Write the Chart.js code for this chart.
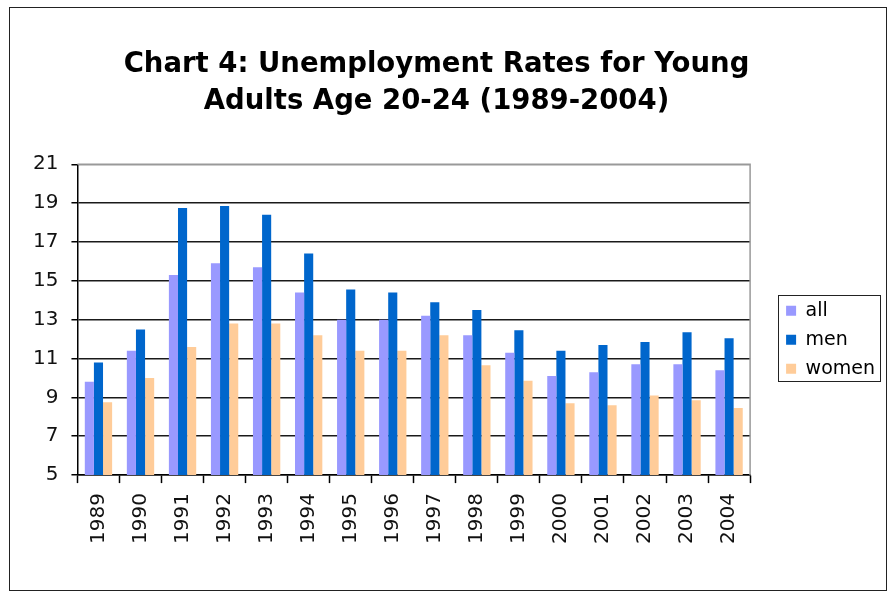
<!DOCTYPE html>
<html>
<head>
<meta charset="utf-8">
<title>Chart 4</title>
<script src="https://cdn.jsdelivr.net/npm/chart.js@4/dist/chart.umd.min.js"></script>
<style>
  body { margin: 0; background: #fff; }
  #frame {
    position: absolute; left: 9px; top: 7px; width: 878px; height: 584px;
    box-sizing: border-box; border: 1px solid #222; pointer-events: none;
  }
  #chart { position: absolute; left: 0; top: 0; }
</style>
</head>
<body>
<canvas id="chart" width="889" height="592"></canvas>
<div id="frame"></div>
<script>
const years = ["1989", "1990", "1991", "1992", "1993", "1994", "1995", "1996",
  "1997", "1998", "1999", "2000", "2001", "2002", "2003", "2004"];
const allRates = [9.8, 11.4, 15.3, 15.9, 15.7, 14.4, 13.0, 13.0, 13.2, 12.2, 11.3, 10.1, 10.3, 10.7, 10.7, 10.4];
const menRates = [10.8, 12.5, 18.75, 18.85, 18.4, 16.4, 14.55, 14.4, 13.9, 13.5, 12.45, 11.4, 11.7, 11.85, 12.35, 12.05];
const womenRates = [8.75, 10.0, 11.6, 12.8, 12.8, 12.2, 11.4, 11.4, 12.2, 10.65, 9.85, 8.7, 8.6, 9.1, 8.85, 8.45];
const titleLines = ["Chart 4: Unemployment Rates for Young", "Adults Age 20-24 (1989-2004)"];

Chart.defaults.font.family = "'DejaVu Sans', Verdana, sans-serif";
Chart.defaults.color = "#000";

// nudge title + legend to where excel put them, then box the legend
const tweaks = {
  id: "tweaks",
  afterLayout(chart) {
    chart.titleBlock.left -= 3;
    chart.titleBlock.right -= 3;
    const lg = chart.legend;
    lg.left += 26; lg.right += 26;
    lg.top += 20; lg.bottom += 20;
  },
  afterDraw(chart) {
    const ctx = chart.ctx;
    const a = chart.chartArea;
    ctx.save();
    // plot area border, top and right in gray
    ctx.strokeStyle = "#999";
    ctx.lineWidth = 1.5;
    ctx.beginPath();
    ctx.moveTo(a.left, a.top);
    ctx.lineTo(a.right, a.top);
    ctx.lineTo(a.right, a.bottom);
    ctx.stroke();
    // legend frame
    const boxes = chart.legend.legendHitBoxes;
    if (boxes && boxes.length) {
      const first = boxes[0], last = boxes[boxes.length - 1];
      let right = 0;
      boxes.forEach(b => { right = Math.max(right, b.left + b.width); });
      const top = first.top + first.height / 2 - 16;
      const bottom = last.top + last.height / 2 + 12;
      ctx.strokeStyle = "#222";
      ctx.lineWidth = 1;
      ctx.strokeRect(Math.round(first.left - 8) + 0.5, Math.round(top) + 0.5,
        Math.round(right - first.left + 13), Math.round(bottom - top));
    }
    ctx.restore();
  }
};

new Chart(document.getElementById("chart"), {
  type: "bar",
  data: {
    labels: years,
    datasets: [
      { label: "all", data: allRates, backgroundColor: "#9999FF" },
      { label: "men", data: menRates, backgroundColor: "#0066CC" },
      { label: "women", data: womenRates, backgroundColor: "#FFCC99" }
    ]
  },
  options: {
    responsive: false,
    animation: false,
    datasets: { bar: { categoryPercentage: 0.65, barPercentage: 1.0 } },
    layout: { padding: { left: 20, right: 30, top: 0, bottom: 38 } },
    plugins: {
      title: {
        display: true,
        text: titleLines,
        font: { size: 27.5, weight: "bold", lineHeight: 1.35 },
        color: "#000",
        padding: { top: 46, bottom: 44 }
      },
      legend: {
        position: "right",
        fullSize: false,
        labels: {
          boxWidth: 10, boxHeight: 10, padding: 10,
          font: { size: 19 }, color: "#000"
        }
      },
      tooltip: { enabled: false }
    },
    scales: {
      x: {
        offset: true,
        grid: {
          offset: true, drawOnChartArea: false, drawTicks: true,
          tickLength: 8, tickColor: "#000", tickWidth: 1.5
        },
        border: { color: "#000", width: 1.5 },
        ticks: { minRotation: 90, maxRotation: 90, padding: 10, font: { size: 20 }, color: "#111" }
      },
      y: {
        min: 5, max: 21,
        ticks: { stepSize: 2, padding: 13, font: { size: 20 }, color: "#111" },
        grid: {
          color: ctx => (ctx.tick && ctx.tick.value === 21 ? "#999" : "#1a1a1a"),
          lineWidth: 1.5, tickLength: 6, tickColor: "#000"
        },
        border: { color: "#000", width: 1.5 }
      }
    }
  },
  plugins: [tweaks]
});
</script>
</body>
</html>
